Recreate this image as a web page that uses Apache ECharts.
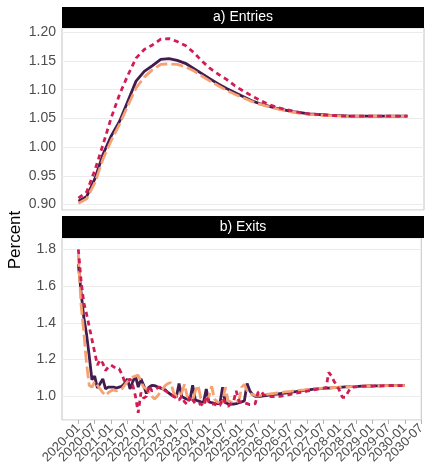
<!DOCTYPE html>
<html>
<head>
<meta charset="utf-8">
<script src="https://cdn.jsdelivr.net/npm/echarts@6/dist/echarts.min.js"></script>
<style>
  html, body { margin: 0; padding: 0; background: #fff; }
  #chart { width: 428px; height: 469px; }
</style>
</head>
<body>
<div id="chart"></div>
<script>
// months counted from 2020-01
var entryMonths = [];
for (var q = 0; q <= 120; q += 3) entryMonths.push(q);
var exitMonths = [];
for (var m = 0; m <= 120; m++) exitMonths.push(m);

var tickMonths = [];
for (var t = 0; t <= 126; t += 6) tickMonths.push(t);
var tickLabels = ['2020-01','2020-07','2021-01','2021-07','2022-01','2022-07','2023-01','2023-07',
    '2024-01','2024-07','2025-01','2025-07','2026-01','2026-07','2027-01','2027-07',
    '2028-01','2028-07','2029-01','2029-07','2030-01','2030-07'];

// a) Entries, quarterly
var entriesDark = [0.906,0.914,0.945,0.988,1.020,1.045,1.080,1.115,1.132,1.142,1.153,1.154,1.151,1.146,
    1.137,1.128,1.119,1.110,1.102,1.095,1.088,1.081,1.076,1.072,1.068,1.065,1.062,1.060,1.058,1.057,
    1.056,1.055,1.055,1.054,1.054,1.054,1.054,1.054,1.054,1.054,1.054];
var entriesRed = [0.911,0.922,0.960,1.005,1.052,1.092,1.125,1.155,1.170,1.178,1.188,1.189,1.184,1.177,
    1.165,1.150,1.137,1.127,1.118,1.107,1.098,1.090,1.082,1.075,1.070,1.066,1.063,1.060,1.058,1.057,
    1.056,1.055,1.054,1.054,1.054,1.054,1.054,1.054,1.054,1.054,1.054];
var entriesOrange = [0.902,0.910,0.938,0.980,1.012,1.040,1.072,1.103,1.122,1.135,1.144,1.145,1.144,1.140,
    1.133,1.124,1.115,1.107,1.099,1.092,1.086,1.080,1.075,1.071,1.067,1.064,1.061,1.059,1.057,1.056,
    1.055,1.055,1.054,1.054,1.054,1.054,1.054,1.054,1.054,1.054,1.054];

// b) Exits, monthly
var exitsDark = [
    1.72,1.57,1.43,1.34,1.22,1.09,1.11,1.045,1.07,1.095,
    1.04,1.05,1.05,1.05,1.045,1.05,1.055,1.07,1.095,1.04,
    1.08,1.11,1.05,1.095,1.06,1.015,1.05,1.06,1.058,1.052,
    1.045,1.04,1.035,1.02,1.01,1.0,0.995,1.07,1.0,0.99,
    0.985,0.98,1.06,0.98,0.975,0.97,0.968,1.04,0.97,0.965,
    0.962,0.96,0.96,1.05,0.965,0.96,0.958,0.958,0.96,0.965,
    0.97,0.975,1.07,1.03,1.01,1.0,1.0,1.0,1.002,1.004,
    1.006,1.008,1.01,1.012,1.014,1.016,1.018,1.02,1.022,1.024,
    1.026,1.028,1.03,1.032,1.034,1.036,1.038,1.04,1.041,1.042,
    1.043,1.044,1.045,1.046,1.047,1.048,1.049,1.05,1.051,1.052,
    1.053,1.053,1.054,1.054,1.055,1.055,1.056,1.056,1.056,1.057,
    1.057,1.057,1.057,1.058,1.058,1.058,1.058,1.058,1.058,1.058,1.058];
var exitsRed = [
    1.80,1.63,1.51,1.45,1.38,1.31,1.24,1.17,1.20,1.18,
    1.14,1.16,1.17,1.16,1.15,1.15,1.12,1.08,1.08,1.095,
    1.06,1.0,0.91,1.02,0.99,1.0,1.06,1.03,1.035,1.045,
    1.05,1.04,1.03,1.02,1.01,1.0,0.99,0.98,1.0,0.97,
    0.955,1.0,0.98,0.96,0.955,0.96,0.945,1.0,0.97,0.955,
    0.96,0.945,0.95,0.99,0.965,0.945,0.96,0.97,1.03,0.975,
    0.965,0.965,0.96,0.955,0.955,0.96,1.02,1.03,1.01,1.005,
    1.0,0.998,0.998,0.999,1.0,1.002,1.005,1.008,1.011,1.014,
    1.017,1.02,1.022,1.025,1.028,1.031,1.034,1.037,1.04,1.042,
    1.044,1.046,1.13,1.11,1.08,1.06,1.03,0.995,0.995,1.02,
    1.045,1.05,1.052,1.053,1.054,1.055,1.055,1.056,1.056,1.057,
    1.057,1.057,1.058,1.058,1.058,1.058,1.058,1.058,1.058,1.058,1.058];
var exitsOrange = [
    1.77,1.50,1.35,1.18,1.06,1.05,1.08,1.06,1.04,1.02,
    1.005,1.02,1.03,1.035,1.03,1.035,1.04,1.06,1.08,1.095,
    1.105,1.11,1.115,1.08,1.05,1.04,1.02,1.0,0.985,1.0,
    1.02,1.04,1.06,1.07,1.075,1.02,1.0,0.995,1.02,1.065,
    1.0,0.985,0.98,1.03,1.06,0.99,0.975,0.97,1.0,1.055,
    0.985,0.97,0.965,0.965,1.05,0.975,0.97,0.968,0.97,0.975,
    1.05,1.065,1.03,1.015,1.01,1.005,1.005,1.005,1.007,1.01,
    1.012,1.014,1.016,1.018,1.02,1.022,1.024,1.026,1.027,1.029,
    1.03,1.032,1.034,1.035,1.037,1.038,1.04,1.041,1.042,1.043,
    1.044,1.045,1.046,1.047,1.048,1.049,1.05,1.051,1.052,1.052,
    1.053,1.054,1.054,1.055,1.055,1.056,1.056,1.056,1.057,1.057,
    1.057,1.057,1.058,1.058,1.058,1.058,1.058,1.058,1.058,1.058,1.058];

(function(){

    var chart = echarts.init(document.getElementById('chart'));
    var font = '"Liberation Sans", Arial, sans-serif';

    function pairs(xs, ys) {
        return xs.map(function (x, i) { return [x, ys[i]]; });
    }

    // empty sentinel labels at both ends so the overlap check drops them, not the real dates
    var labelMonths = [-6].concat(tickMonths, [125.999]);

    function xAxis(idx, labels) {
        return {
            type: 'value', gridIndex: idx, min: -6, max: 126,
            axisLine: { show: false },
            splitLine: { show: false },
            axisTick: { show: labels, length: 4, lineStyle: { color: '#b3b3b3' }, customValues: tickMonths },
            axisLabel: {
                show: labels, customValues: labelMonths, rotate: 45, margin: 6,
                hideOverlap: false,
                color: '#4d4d4d', fontSize: 13, fontFamily: font,
                formatter: function (v) { return tickLabels[tickMonths.indexOf(v)] || ''; }
            }
        };
    }

    function yAxis(idx, min, max, digits) {
        return {
            type: 'value', gridIndex: idx, min: min, max: max, splitNumber: 6,
            axisLine: { show: false },
            axisTick: { show: false },
            splitLine: { lineStyle: { color: '#ececec', width: 1 } },
            axisLabel: {
                color: '#4d4d4d', fontSize: 14, fontFamily: font, margin: 6,
                showMinLabel: false, showMaxLabel: false,
                formatter: function (v) { return v.toFixed(digits); }
            }
        };
    }

    function line(name, idx, xs, ys, color, dash, z) {
        return {
            name: name, type: 'line', xAxisIndex: idx, yAxisIndex: idx,
            data: pairs(xs, ys), showSymbol: false, z: z,
            lineStyle: { color: color, width: 2.8, type: dash, cap: 'butt' }
        };
    }

    var option = {
        animation: false,
        grid: [
            { left: 62, top: 28, width: 362, height: 182, show: true, borderColor: '#c4c4c4', borderWidth: 1 },
            { left: 62, top: 238, width: 362, height: 182, show: true, borderColor: '#c4c4c4', borderWidth: 1 }
        ],
        xAxis: [xAxis(0, false), xAxis(1, true)],
        yAxis: [yAxis(0, 0.8905, 1.2075, 2), yAxis(1, 0.871, 1.862, 1)],
        graphic: [
            { type: 'rect', shape: { x: 62, y: 7, width: 362, height: 21 }, style: { fill: '#000' } },
            { type: 'text', x: 243, y: 17.5, style: { text: 'a) Entries', fill: '#fff', font: '14px ' + font, textAlign: 'center', textVerticalAlign: 'middle' } },
            { type: 'rect', shape: { x: 62, y: 216, width: 362, height: 22 }, style: { fill: '#000' } },
            { type: 'text', x: 243, y: 227, style: { text: 'b) Exits', fill: '#fff', font: '14px ' + font, textAlign: 'center', textVerticalAlign: 'middle' } },
            { type: 'text', x: 15, y: 240, rotation: Math.PI / 2, style: { text: 'Percent', fill: '#000', font: '17px ' + font, textAlign: 'center', textVerticalAlign: 'middle' } }
        ],
        series: [
            line('Baseline', 0, entryMonths, entriesDark, '#421c4f', 'solid', 2),
            line('Scenario 2', 0, entryMonths, entriesOrange, '#f6a171', [12, 4], 3),
            line('Scenario 1', 0, entryMonths, entriesRed, '#d21c55', [5, 4], 4),
            line('Baseline', 1, exitMonths, exitsDark, '#421c4f', 'solid', 2),
            line('Scenario 2', 1, exitMonths, exitsOrange, '#f6a171', [12, 4], 3),
            line('Scenario 1', 1, exitMonths, exitsRed, '#d21c55', [5, 4], 4)
        ]
    };

    chart.setOption(option);
})();
</script>
</body>
</html>
